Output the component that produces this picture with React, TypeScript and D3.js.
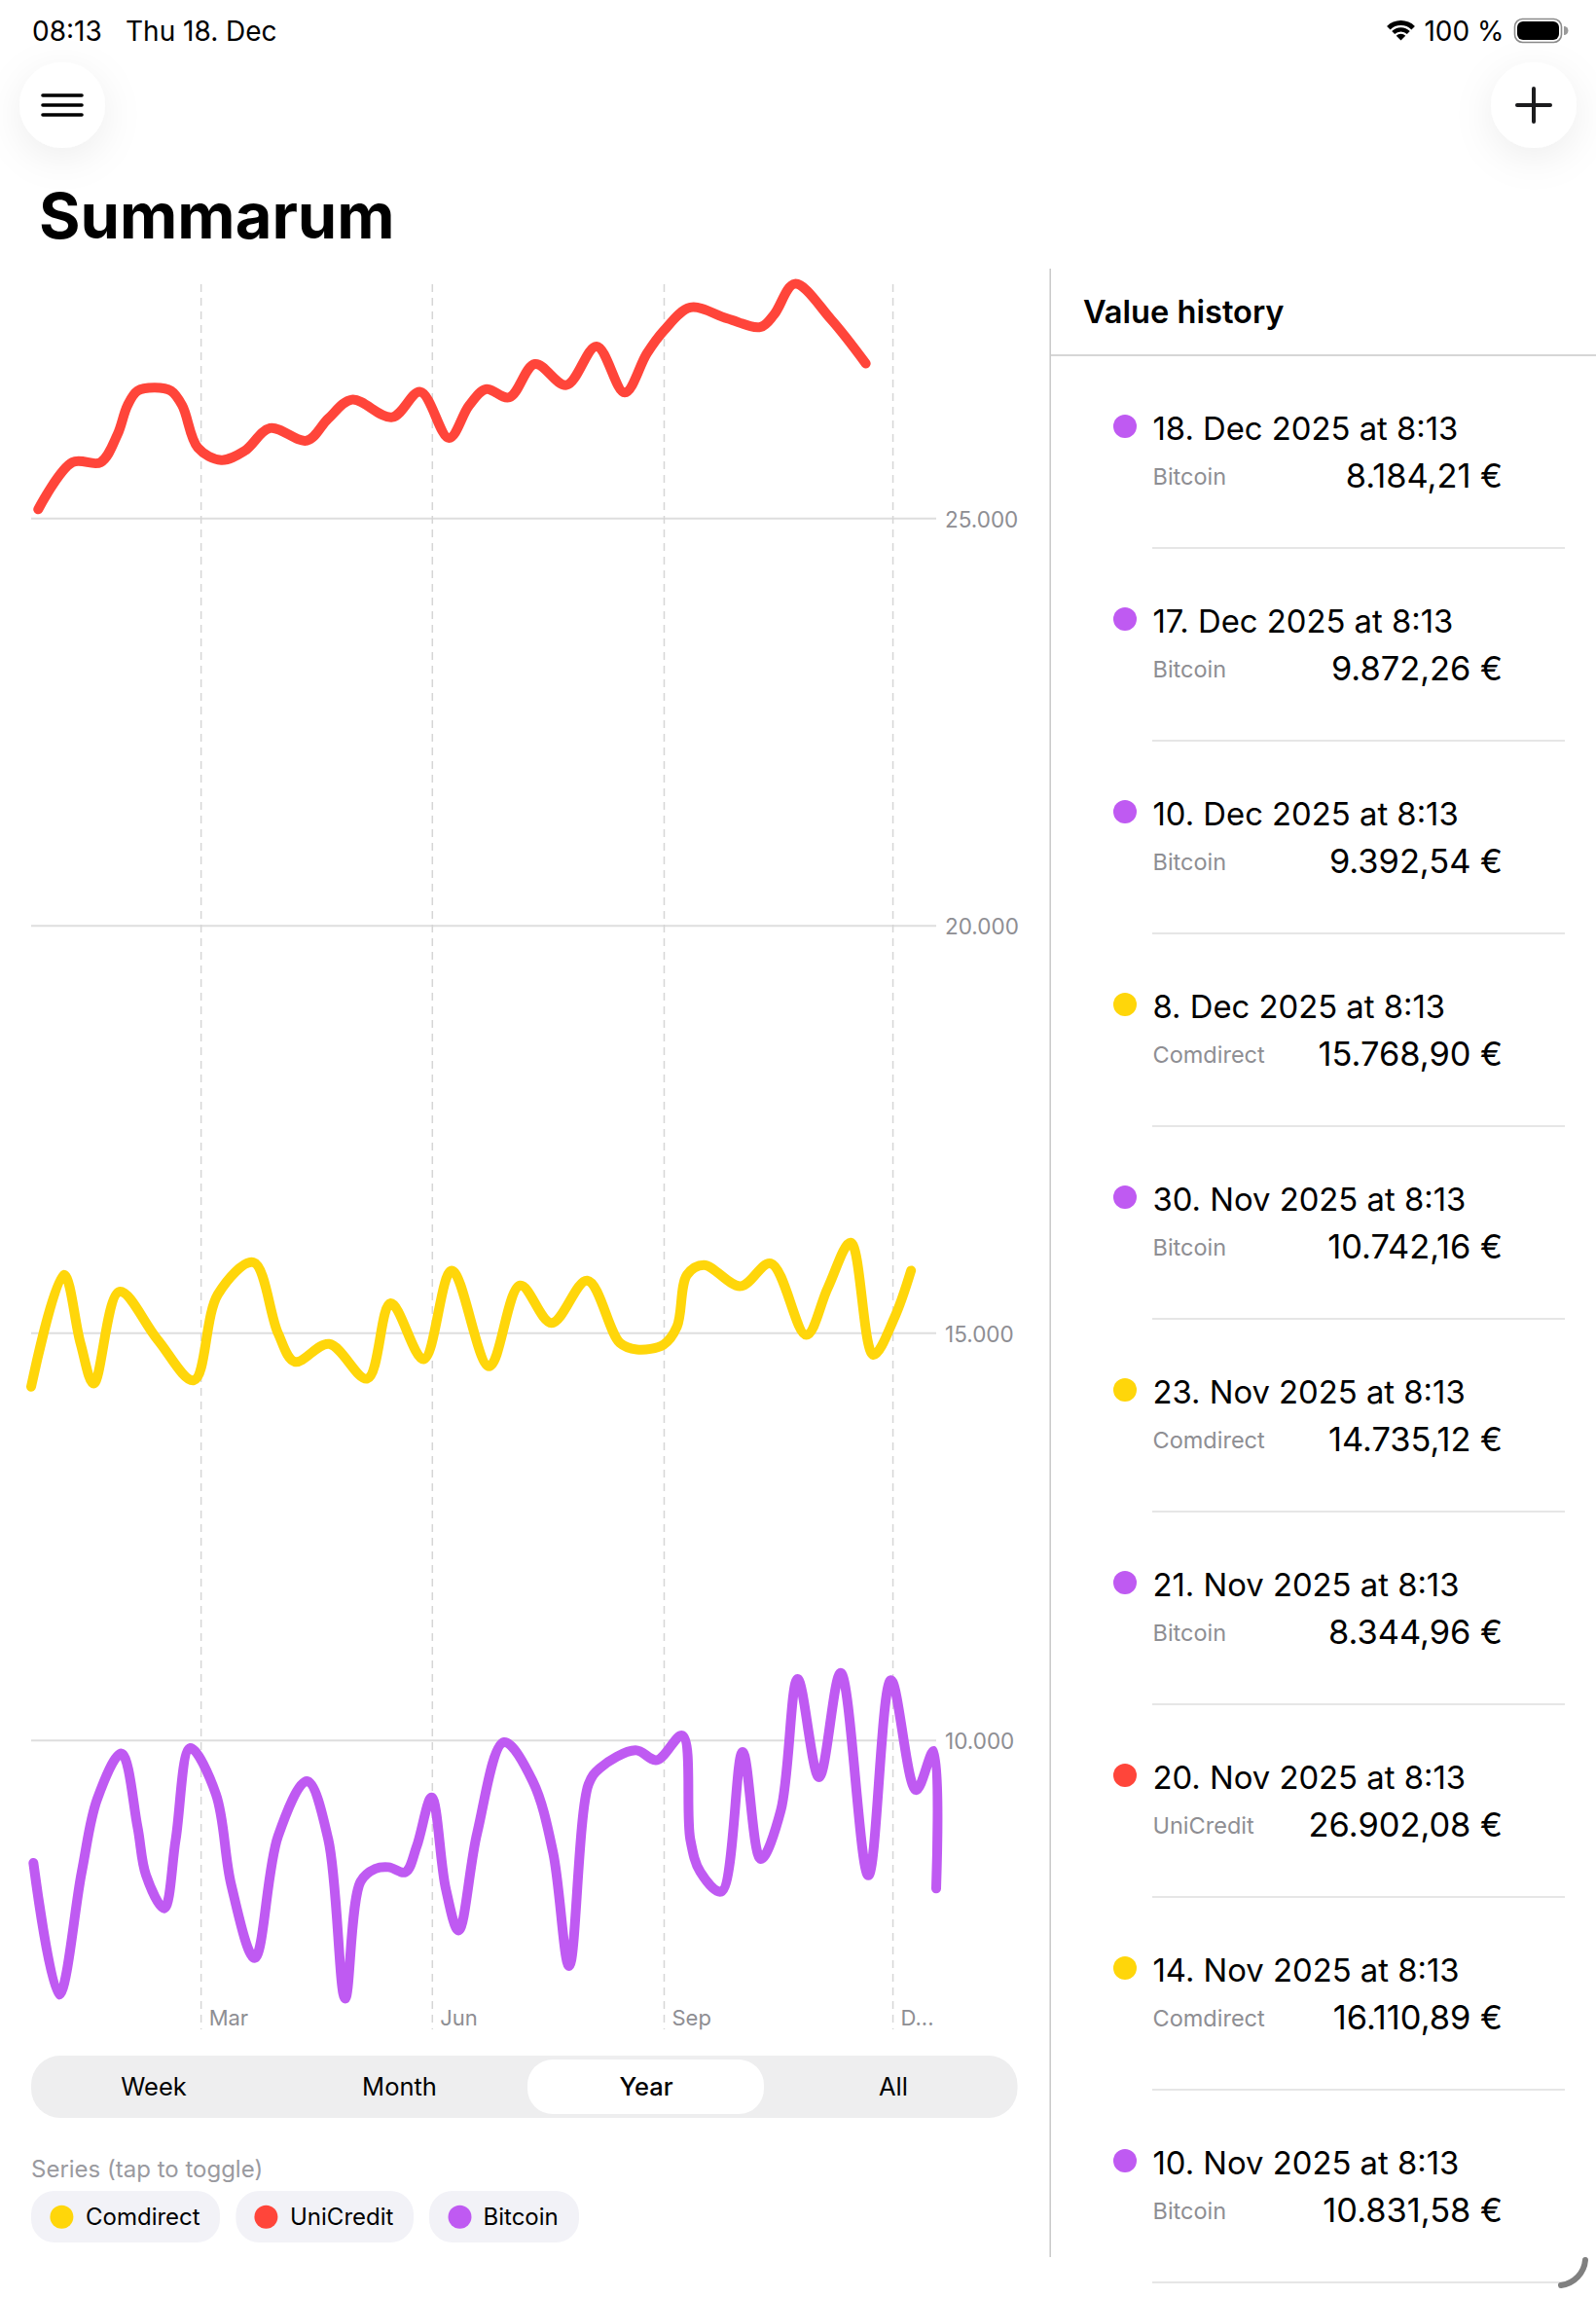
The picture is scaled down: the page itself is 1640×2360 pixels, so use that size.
import React from 'react';
import * as d3 from 'd3';

const FONT = 'Inter, "Noto Sans", sans-serif';
const YELLOW = '#FFD60A';
const RED = '#FF453A';
const PURPLE = '#BF5AF2';
const GREY = '#8E8E93';

// days since the start of the chart window (23 Dec 2024)
const comdirectDays = [0, 13, 19.6, 24.9, 35.1, 50.3, 64.7, 74.3, 88.4, 98.2, 104.9, 118.5, 133.7, 143, 156.1, 167.3, 182.2, 194.5, 207, 221.2, 234.2, 240.9, 251.6, 256.9, 260.9, 267.6, 282.2, 294.2, 308.3, 316.9, 326, 335, 343.5, 350];
const comdirectValues = [14343, 15717, 14880, 14382, 15510, 14920, 14422, 15478, 15869, 15000, 14649, 14869, 14442, 15367, 14681, 15769, 14594, 15586, 15127, 15645, 14880, 14801, 14861, 15080, 15717, 15837, 15578, 15857, 14980, 15558, 16110.89, 14735.12, 15199, 15768.9];

const unicreditDays = [2.8, 16.4, 27.6, 34.3, 38.3, 42.3, 49.2, 55.6, 60.1, 66.3, 75.6, 84.9, 95, 109.7, 118.2, 127.6, 143.6, 154.8, 166.2, 174.2, 180.9, 190.2, 200.4, 212.9, 224.9, 236.1, 244.9, 251.6, 262.2, 276.9, 290.2, 295.5, 303.8, 318.2, 332];
const unicreditValues = [25112, 25689, 25689, 26028, 26386, 26566, 26606, 26566, 26386, 25869, 25717, 25829, 26108, 25956, 26227, 26458, 26243, 26554, 25988, 26386, 26586, 26486, 26896, 26637, 27112, 26546, 27024, 27303, 27590, 27454, 27351, 27502, 27880, 27442, 26902.08];

const bitcoinDays = [0.9, 11.1, 20.1, 26.3, 35.9, 42.3, 45.7, 52.9, 57.5, 63.3, 73.5, 79.6, 88.9, 98.2, 109.7, 118.2, 124.9, 131, 136.9, 142.2, 148.9, 153.4, 159.3, 164.9, 170, 177.4, 188.1, 199.5, 207.6, 214, 221.7, 226.2, 240.4, 248.9, 259, 262.2, 266.2, 274.5, 283, 290.2, 298.2, 304.9, 313.4, 322, 333, 342, 352, 359, 360];
const bitcoinValues = [8498, 6881, 8386, 9283, 9841, 8944, 8347, 7940, 8785, 9908, 9343, 8227, 7331, 8825, 9502, 8785, 6833, 8267, 8426, 8446, 8386, 8705, 9303, 8187, 7669, 8865, 9980, 9502, 8626, 7231, 9462, 9661, 9880, 9761, 10060, 8785, 8386, 8147, 9861, 8546, 9143, 10757, 9550, 10831.58, 8344.96, 10742.16, 9392.54, 9872.26, 8184.21];

const yTicks = [25000, 20000, 15000, 10000];
const yTickLabels = ['25.000', '20.000', '15.000', '10.000'];
const xTickDays = [67.6, 159.6, 251.8, 342.8];
const xTickLabels = ['Mar', 'Jun', 'Sep', 'D...'];

const ranges = ['Week', 'Month', 'Year', 'All'];
const selectedRange = 'Year';

const seriesNames = ['Comdirect', 'UniCredit', 'Bitcoin'];
const seriesColors = [YELLOW, RED, PURPLE];

const historyDates = ['18. Dec 2025 at 8:13', '17. Dec 2025 at 8:13', '10. Dec 2025 at 8:13', '8. Dec 2025 at 8:13', '30. Nov 2025 at 8:13', '23. Nov 2025 at 8:13', '21. Nov 2025 at 8:13', '20. Nov 2025 at 8:13', '14. Nov 2025 at 8:13', '10. Nov 2025 at 8:13'];
const historySeries = ['Bitcoin', 'Bitcoin', 'Bitcoin', 'Comdirect', 'Bitcoin', 'Comdirect', 'Bitcoin', 'UniCredit', 'Comdirect', 'Bitcoin'];
const historyValues = ['8.184,21 €', '9.872,26 €', '9.392,54 €', '15.768,90 €', '10.742,16 €', '14.735,12 €', '8.344,96 €', '26.902,08 €', '16.110,89 €', '10.831,58 €'];

const x = d3.scaleLinear().domain([0, 360]).range([32, 962]);
const y = d3.scaleLinear().domain([10000, 25000]).range([1788.3, 532.7]);

const lineOf = (days: number[], values: number[]) =>
  d3.line<number>()
    .x((d) => x(d))
    .y((_, i) => y(values[i]))
    .curve(d3.curveCatmullRom.alpha(0.5))(days) || '';

const lines = [
  { color: YELLOW, d: lineOf(comdirectDays, comdirectValues) },
  { color: RED, d: lineOf(unicreditDays, unicreditValues) },
  { color: PURPLE, d: lineOf(bitcoinDays, bitcoinValues) }
];

const wifiArc = d3.arc<{ inner: number; outer: number }>()
  .innerRadius((d) => d.inner)
  .outerRadius((d) => d.outer)
  .startAngle(-0.78)
  .endAngle(0.78);
const wifiRings = [{ inner: 15.5, outer: 20.5 }, { inner: 9, outer: 13.2 }, { inner: 0, outer: 6.8 }];

// left edges of the legend chips
const chips = [
  { x: 32, w: 194, dot: 63.4, text: 88 },
  { x: 242.4, w: 182.6, dot: 273.4, text: 298 },
  { x: 441, w: 154, dot: 472.5, text: 496.5 }
];
const segmentCenters = [158, 410.5, 664, 918];

const colorOf = (name: string) => seriesColors[seriesNames.indexOf(name)];

const ROW = 198;

export default function App() {
  return (
    <svg
      width={1640}
      height={2360}
      viewBox="0 0 1640 2360"
      style={{ position: 'absolute', left: 0, top: 0, display: 'block', background: '#fff', fontFamily: FONT }}
    >
      <defs>
        <filter id="soft" x="-100%" y="-100%" width="300%" height="300%">
          <feDropShadow dx="0" dy="10" stdDeviation="20" floodColor="#000" floodOpacity="0.07" />
        </filter>
      </defs>

      {/* status bar */}
      <text x={33} y={41.5} fontSize={28} fill="#000">08:13</text>
      <text x={129} y={41.5} fontSize={28} fill="#000">Thu 18. Dec</text>
      <g transform="translate(1439.5,41.5)" fill="#000">
        {wifiRings.map((r, i) => <path key={i} d={wifiArc(r) || ''} />)}
      </g>
      <text x={1545.5} y={42} fontSize={28} textAnchor="end" fill="#000">100 %</text>
      <rect x={1556.5} y={19.5} width={48} height={24} rx={8} fill="none" stroke="#8a8a8a" strokeWidth={1.6} />
      <rect x={1559} y={22} width={43} height={19} rx={6} fill="#000" />
      <path d="M1607 27 a4 4 0 0 1 0 9 z" fill="#9a9a9a" />

      {/* round buttons */}
      <circle cx={64} cy={108} r={44} fill="#fff" filter="url(#soft)" />
      <g stroke="#000" strokeWidth={3.6} strokeLinecap="round">
        {[98, 108, 118].map((v) => <line key={v} x1={44} x2={84} y1={v} y2={v} />)}
      </g>
      <circle cx={1576} cy={108} r={44} fill="#fff" filter="url(#soft)" />
      <g stroke="#1c1c1e" strokeWidth={4} strokeLinecap="round">
        <line x1={1559} x2={1593} y1={108} y2={108} />
        <line x1={1576} x2={1576} y1={91} y2={125} />
      </g>

      <text x={40} y={244.5} fontSize={65} fontWeight={700} fill="#000">Summarum</text>

      {/* chart grid */}
      {yTicks.map((t, i) => (
        <g key={t}>
          <line x1={x(0)} x2={x(360)} y1={y(t)} y2={y(t)} stroke="#dedede" strokeWidth={2} />
          <text x={971} y={y(t) + 9} fontSize={22.5} fill={GREY}>{yTickLabels[i]}</text>
        </g>
      ))}
      {xTickDays.map((d, i) => (
        <g key={d}>
          <line x1={x(d)} x2={x(d)} y1={292} y2={2085} stroke="#d6d6d6" strokeWidth={1.5} strokeDasharray="8 6" />
          <text x={x(d) + 8} y={2080.5} fontSize={22} fill={GREY}>{xTickLabels[i]}</text>
        </g>
      ))}

      {/* series */}
      {lines.map((l) => (
        <path key={l.color} d={l.d} fill="none" stroke={l.color} strokeWidth={10} strokeLinecap="round" strokeLinejoin="round" />
      ))}

      {/* range picker */}
      <rect x={32} y={2112} width={1013.5} height={64} rx={30} fill="#EEEEEF" />
      <rect x={542} y={2116} width={243} height={56} rx={26} fill="#fff" />
      {ranges.map((r, i) => (
        <text key={r} x={segmentCenters[i]} y={2153} fontSize={25.5} fontWeight={r === selectedRange ? 500 : 400} textAnchor="middle" fill="#000">{r}</text>
      ))}

      {/* legend */}
      <text x={32} y={2236.5} fontSize={24} fill="#9a9a9f">Series (tap to toggle)</text>
      {seriesNames.map((name, i) => (
        <g key={name}>
          <rect x={chips[i].x} y={2251} width={chips[i].w} height={53} rx={24} fill="#F2F2F7" />
          <circle cx={chips[i].dot} cy={2277.7} r={12} fill={seriesColors[i]} />
          <text x={chips[i].text} y={2286} fontSize={24} fill="#000">{name}</text>
        </g>
      ))}

      {/* value history panel */}
      <line x1={1079.2} x2={1079.2} y1={276} y2={2319} stroke="#c9c9c9" strokeWidth={1.5} />
      <line x1={1079.2} x2={1640} y1={365} y2={365} stroke="#c9c9c9" strokeWidth={1.5} />
      <text x={1113} y={332} fontSize={32.6} fontWeight={600} fill="#000">Value history</text>
      {historyDates.map((date, i) => (
        <g key={date} transform={`translate(0,${ROW * i})`}>
          <circle cx={1156} cy={438} r={12} fill={colorOf(historySeries[i])} />
          <text x={1184.5} y={452} fontSize={32.8} fill="#000">{date}</text>
          <text x={1184.5} y={497.5} fontSize={23.5} fill={GREY}>{historySeries[i]}</text>
          <text x={1544} y={501} fontSize={34.4} textAnchor="end" fill="#000">{historyValues[i]}</text>
          <line x1={1184} x2={1608} y1={563} y2={563} stroke="#e6e6e6" strokeWidth={2} />
        </g>
      ))}

      {/* window resize handle */}
      <path d="M1629 2322 C1628 2335 1618 2346 1604 2348" fill="none" stroke="#808080" strokeWidth={6} strokeLinecap="round" />
    </svg>
  );
}
